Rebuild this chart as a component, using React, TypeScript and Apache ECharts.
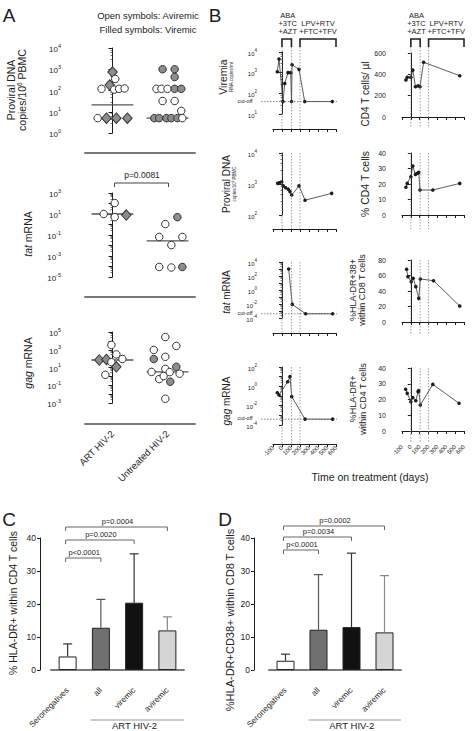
import React, { useEffect, useRef } from "react";
import * as echarts from "echarts";

const FONT = "'Liberation Sans', Arial, Helvetica, sans-serif";
const INK = "#1c1c1c";
const GREY_FILL = "#8d8d8d";

// ---------------- Panel A: one entry per subject ----------------
// [offset within the group column, value, viremic (filled), diamond marker]
type Subject = [number, number, number, number];
const groupNames = ["ART HIV-2", "Untreated HIV-2"];

const proviralArt: Subject[] = [
  [0.0, 740, 1, 1], [0.05, 350, 0, 0], [-0.05, 180, 1, 1],
  [-0.2, 120, 0, 0], [0.03, 110, 0, 0], [0.12, 120, 0, 0], [0.22, 125, 0, 0],
  [-0.27, 5, 0, 0], [-0.11, 5, 1, 1], [0.07, 5, 1, 1], [0.27, 5, 1, 1],
];
const proviralUntreated: Subject[] = [
  [-0.09, 1000, 1, 0], [0.13, 1000, 1, 0], [0.13, 430, 1, 0],
  [-0.2, 120, 0, 0], [-0.11, 120, 0, 0], [0.0, 120, 0, 0], [0.13, 120, 1, 0], [0.25, 120, 1, 0],
  [-0.09, 32, 0, 0], [0.13, 32, 0, 0], [0.25, 11, 0, 0],
  [-0.24, 5, 1, 0], [-0.15, 5, 1, 0], [-0.02, 5, 1, 0], [0.07, 5, 1, 0], [0.18, 5, 1, 0], [0.27, 5, 0, 0],
];
const proviralMedians = [21, 5];

const tatArt: Subject[] = [
  [0.04, 110, 0, 0], [-0.16, 10, 0, 0], [0.04, 5, 0, 0], [0.25, 8, 1, 1],
];
const tatUntreated: Subject[] = [
  [0.18, 5, 1, 0], [-0.04, 1.1, 0, 0], [-0.15, 0.065, 0, 0], [0.27, 0.065, 0, 0],
  [0.07, 0.011, 0, 0], [-0.15, 9e-5, 0, 0], [0.07, 8e-5, 0, 0], [0.27, 9e-5, 1, 0],
];
const tatMedians = [10, 0.027];

const gagArt: Subject[] = [
  [-0.02, 3500, 0, 0], [0.07, 300, 0, 0], [0.18, 90, 0, 0], [-0.24, 70, 1, 1],
  [-0.11, 80, 1, 1], [-0.02, 40, 0, 0], [0.07, 12, 1, 1], [-0.13, 1.5, 0, 0],
];
const gagUntreated: Subject[] = [
  [-0.04, 27000, 0, 0], [0.16, 2700, 0, 0], [-0.25, 950, 0, 0], [-0.04, 160, 0, 0],
  [-0.25, 90, 1, 0], [0.16, 12, 1, 0], [-0.29, 3.2, 0, 0], [-0.04, 7, 0, 0],
  [0.22, 2, 0, 0], [-0.15, 0.5, 0, 0], [-0.07, 1.1, 0, 0], [0.05, 0.25, 1, 0],
  [0.04, 3, 0, 0], [-0.04, 0.003, 0, 0],
];
const gagMedians = [70, 3.2];
const tatPvalue = "p=0.0081";

// ---------------- Panel B: follow-up of one patient ----------------
const timeTicks = [-100, 600];
const regimenSwitchDays = [0, 105, 200];
const firstRegimen = ["ABA", "+3TC", "+AZT"];
const firstRegimenSpan = [0, 105];
const secondRegimen = ["LPV+RTV", "+FTC+TFV"];
const secondRegimenSpan = [200, 600];
const viremiaCutoff = 40;
const rnaCutoff = 4e-4;

const viremiaDays = [-52, -33, 11, 30, 67, 97, 106, 112, 189, 252, 559];
const viremiaCopies = [1100, 4600, 40, 300, 1000, 1000, 40, 2400, 1450, 40, 40];
const proviralDays = [-48, -30, -3, 14, 41, 70, 89, 108, 189, 256, 552];
const proviralCopies = [1050, 1100, 1180, 870, 760, 680, 570, 440, 870, 300, 500];
const tatDays = [74, 114, 263, 563];
const tatCopies = [1000, 0.009, 4e-4, 4e-4];
const gagDays = [-52, -33, 63, 89, 108, 256, 563];
const gagCopies = [0.22, 0.126, 3.0, 10, 0.085, 4e-4, 4e-4];
const cd4CountDays = [-56, -41, 0, 22, 52, 81, 103, 144, 552];
const cd4Counts = [347, 372, 372, 440, 284, 293, 284, 513, 387];
const cd4PctDays = [-56, -41, 0, 22, 52, 74, 89, 103, 248, 552];
const cd4Pct = [17.9, 20.4, 24.7, 31.6, 26.2, 26.9, 27.5, 16.1, 16.1, 20.4];
const cd8ActDays = [-48, -33, 4, 26, 56, 89, 107, 256, 552];
const cd8Act = [68, 58.5, 52, 56.4, 45.6, 30.5, 55.5, 53.3, 20.6];
const cd4ActDays = [-59, -41, 0, 22, 56, 81, 89, 107, 248, 544];
const cd4Act = [26.5, 23.9, 18.6, 21.2, 19.2, 25, 25.6, 16.5, 29.6, 17.6];

// ---------------- Panels C and D: activation markers ----------------
const cohortGroups = ["Seronegatives", "all", "viremic", "aviremic"];
const cd4HlaMean = [4.1, 12.8, 20.4, 12.0];
const cd4HlaUpper = [7.9, 21.4, 35.2, 16.1];
const cd8HlaCd38Mean = [2.8, 12.2, 13.0, 11.4];
const cd8HlaCd38Upper = [4.8, 28.9, 35.4, 28.6];
const cd4Pvalues = ["p<0.0001", "p=0.0020", "p=0.0004"];
const cd8Pvalues = ["p<0.0001", "p=0.0034", "p=0.0002"];
const barColors = ["#ffffff", "#707070", "#111111", "#d5d5d5"];
const errorColors = ["#333333", "#555555", "#333333", "#8a8a8a"];

// ---------------- layout ----------------
const aGrids = [
  { top: 48, height: 85, gap: 20 },
  { top: 193, height: 84, gap: 20 },
  { top: 332, height: 71, gap: 21 },
];
const bLeft = { left: 273, width: 63 };
const bRight = { left: 402, width: 62 };
const bLeftRows = [
  { top: 52, height: 62, gap: 15 },
  { top: 153, height: 62, gap: 14 },
  { top: 262, height: 56, gap: 15 },
  { top: 367, height: 58, gap: 19 },
];
const bRightRows = [
  { top: 53, height: 64, gap: 11 },
  { top: 153, height: 62, gap: 14 },
  { top: 260, height: 62, gap: 13 },
  { top: 368, height: 63, gap: 12 },
];
const cGrid = { left: 51, width: 133, top: 538, height: 132, yGap: 11, xGap: 14 };
const dGrid = { left: 269, width: 132, top: 538, height: 132, yGap: 15, xGap: 14 };

const supRich = (base: number, sup: number) => ({
  b: { fontSize: base, fontFamily: FONT, color: INK, verticalAlign: "bottom", lineHeight: base + 3 },
  s: { fontSize: sup, fontFamily: FONT, color: INK, verticalAlign: "top", lineHeight: base + 3 },
});

const decadeLabel = (step: number, ref: number) => (v: number) => {
  const e = Math.round(Math.log10(v));
  return (e - ref) % step === 0 ? `{b|10}{s|${e}}` : "";
};

function logAxis(gridIndex: number, min: number, max: number, step: number, ref: number, offset: number, small: boolean) {
  return {
    type: "log",
    logBase: 10,
    gridIndex,
    min,
    max,
    offset,
    splitNumber: 10,
    axisLine: { show: true, lineStyle: { color: INK, width: 1 } },
    axisTick: { show: true, length: small ? 3 : 4, lineStyle: { color: INK, width: 1 } },
    minorTick: { show: true, splitNumber: 5, length: small ? 1.5 : 2, lineStyle: { color: INK, width: 0.6 } },
    splitLine: { show: false },
    minorSplitLine: { show: false },
    axisLabel: {
      formatter: decadeLabel(step, ref),
      margin: small ? 4 : 6,
      showMinLabel: true,
      showMaxLabel: true,
      rich: small ? supRich(6, 4.5) : supRich(8, 5.5),
    },
  };
}

function linearAxis(gridIndex: number, max: number, interval: number, offset: number, fontSize: number) {
  return {
    type: "value",
    gridIndex,
    min: 0,
    max,
    interval,
    offset,
    axisLine: { show: true, lineStyle: { color: INK, width: 1 } },
    axisTick: { show: true, length: 3, lineStyle: { color: INK } },
    splitLine: { show: false },
    axisLabel: { fontSize, fontFamily: FONT, color: INK, margin: 4, showMinLabel: true, showMaxLabel: true },
  };
}

function buildOption() {
  const grid: any[] = [];
  const xAxis: any[] = [];
  const yAxis: any[] = [];
  const series: any[] = [];

  // ---- A ----
  const aSets = [
    { art: proviralArt, untreated: proviralUntreated, medians: proviralMedians, min: 1, max: 1e4, step: 1, ref: 0 },
    { art: tatArt, untreated: tatUntreated, medians: tatMedians, min: 1e-5, max: 1e3, step: 2, ref: 1 },
    { art: gagArt, untreated: gagUntreated, medians: gagMedians, min: 1e-3, max: 1e5, step: 2, ref: 1 },
  ];
  aSets.forEach((set, k) => {
    const g = aGrids[k];
    grid.push({ left: 85, width: 110, top: g.top, height: g.height, outerBoundsMode: "none" });
    xAxis.push({ type: "value", gridIndex: k, position: "bottom", min: -0.5, max: 1.5, show: false });
    xAxis.push({
      type: "category",
      gridIndex: k,
      position: "bottom",
      data: groupNames,
      offset: g.gap,
      axisLine: { lineStyle: { color: "#7a7a7a", width: 2 } },
      axisTick: { show: false },
      splitLine: { show: false },
      axisLabel: { show: k === 2, rotate: 45, fontSize: 9.5, fontFamily: FONT, color: INK, margin: 8 },
    });
    yAxis.push(logAxis(k, set.min, set.max, set.step, set.ref, 18, false));
    [set.art, set.untreated].forEach((subjects, gi) => {
      series.push({
        type: "line",
        xAxisIndex: 2 * k,
        yAxisIndex: k,
        data: [[gi - 0.38, set.medians[gi]], [gi + 0.38, set.medians[gi]]],
        symbol: "none",
        lineStyle: { color: "#555", width: 1.3 },
        z: 1,
      });
      series.push({
        type: "scatter",
        xAxisIndex: 2 * k,
        yAxisIndex: k,
        z: 2,
        data: subjects.map(([o, v, filled, diamond]) => ({
          value: [gi + o, v],
          symbol: diamond ? "diamond" : "circle",
          symbolSize: diamond ? [9.5, 10.5] : 7.5,
          itemStyle: { color: filled ? GREY_FILL : "#ffffff", borderColor: "#333", borderWidth: 1, opacity: 1 },
        })),
      });
    });
  });

  // ---- B ----
  const bPanels = [
    { days: viremiaDays, vals: viremiaCopies, log: [10, 1e4], step: 1 },
    { days: proviralDays, vals: proviralCopies, log: [100, 1e4], step: 1 },
    { days: tatDays, vals: tatCopies, log: [1e-4, 1e4], step: 2 },
    { days: gagDays, vals: gagCopies, log: [1e-4, 1e2], step: 2 },
    { days: cd4CountDays, vals: cd4Counts, lin: [600, 200] },
    { days: cd4PctDays, vals: cd4Pct, lin: [40, 10] },
    { days: cd8ActDays, vals: cd8Act, lin: [80, 20] },
    { days: cd4ActDays, vals: cd4Act, lin: [40, 10] },
  ];
  bPanels.forEach((p: any, i) => {
    const right = i >= 4;
    const row = i % 4;
    const col = right ? bRight : bLeft;
    const r = right ? bRightRows[row] : bLeftRows[row];
    const gi = 3 + i;
    grid.push({ left: col.left, width: col.width, top: r.top, height: r.height, outerBoundsMode: "none" });
    xAxis.push({
      type: "value",
      gridIndex: gi,
      position: "bottom",
      min: timeTicks[0],
      max: timeTicks[1],
      interval: 100,
      offset: r.gap,
      axisLine: { show: true, lineStyle: { color: INK, width: 1 } },
      axisTick: { show: true, length: 3, lineStyle: { color: INK } },
      splitLine: { show: false },
      axisLabel: {
        show: row === 3,
        rotate: 45,
        fontSize: 6,
        lineHeight: 4.5,
        fontFamily: FONT,
        color: INK,
        margin: 3,
        showMinLabel: true,
        showMaxLabel: true,
        hideOverlap: false,
      },
    });
    if (p.log) {
      yAxis.push(logAxis(gi, p.log[0], p.log[1], p.step, 0, 12, true));
    } else {
      yAxis.push(linearAxis(gi, p.lin[0], p.lin[1], 12, 7));
    }
    series.push({
      type: "line",
      xAxisIndex: 6 + i,
      yAxisIndex: gi,
      data: p.days.map((d: number, j: number) => [d, p.vals[j]]),
      symbol: "circle",
      symbolSize: 3.6,
      showSymbol: true,
      itemStyle: { color: INK },
      lineStyle: { color: "#333", width: 0.8 },
    });
  });

  // ---- C and D ----
  const bars = [
    { g: cGrid, mean: cd4HlaMean, upper: cd4HlaUpper },
    { g: dGrid, mean: cd8HlaCd38Mean, upper: cd8HlaCd38Upper },
  ];
  bars.forEach((b, k) => {
    const gi = 11 + k;
    grid.push({ left: b.g.left, width: b.g.width, top: b.g.top, height: b.g.height, outerBoundsMode: "none" });
    xAxis.push({
      type: "category",
      gridIndex: gi,
      position: "bottom",
      data: cohortGroups,
      offset: b.g.xGap,
      axisLine: { lineStyle: { color: "#7a7a7a", width: 2 } },
      axisTick: { show: false },
      axisLabel: { rotate: 45, fontSize: 8.2, fontFamily: FONT, color: INK, margin: 5, interval: 0 },
    });
    yAxis.push(linearAxis(gi, 40, 10, b.g.yGap, 8.5));
    series.push({
      type: "bar",
      xAxisIndex: 14 + k,
      yAxisIndex: gi,
      barWidth: 18,
      data: b.mean.map((v, j) => ({ value: v, itemStyle: { color: barColors[j] } })),
      itemStyle: { borderColor: "#222", borderWidth: 1 },
      z: 2,
    });
    series.push({
      type: "custom",
      xAxisIndex: 14 + k,
      yAxisIndex: gi,
      z: 3,
      data: b.mean.map((v, j) => [j, b.upper[j], v]),
      encode: { x: 0, y: [1, 2] },
      renderItem: (params: any, api: any) => {
        const j = api.value(0);
        const top = api.coord([j, api.value(1)]);
        const base = api.coord([j, api.value(2)]);
        const stroke = errorColors[j];
        return {
          type: "group",
          children: [
            { type: "line", shape: { x1: base[0], y1: base[1], x2: top[0], y2: top[1] }, style: { stroke, lineWidth: 1.2 } },
            { type: "line", shape: { x1: top[0] - 4.5, y1: top[1], x2: top[0] + 4.5, y2: top[1] }, style: { stroke, lineWidth: 1.2 } },
          ],
        };
      },
    });
  });

  return {
    animation: false,
    backgroundColor: "#ffffff",
    textStyle: { fontFamily: FONT, color: INK },
    grid,
    xAxis,
    yAxis,
    series,
  };
}

const richSet = (size: number) => ({
  n: { fontSize: size, fontFamily: FONT, fill: INK, lineHeight: size + 2 },
  i: { fontSize: size, fontFamily: FONT, fill: INK, fontStyle: "italic", lineHeight: size + 2 },
  s: { fontSize: size * 0.62, fontFamily: FONT, fill: INK, verticalAlign: "top", lineHeight: size + 2 },
});

function buildGraphics(chart: any) {
  const px = (axis: number, v: any) => chart.convertToPixel({ xAxisIndex: axis }, v) as number;
  const py = (axis: number, v: number) => chart.convertToPixel({ yAxisIndex: axis }, v) as number;
  const els: any[] = [];

  const text = (x: number, y: number, t: string, size: number, opt: any = {}) => {
    els.push({
      type: "text",
      x,
      y,
      rotation: opt.rotate ? Math.PI / 2 : 0,
      silent: true,
      z: 10,
      style: {
        text: t,
        fontSize: size,
        fontFamily: FONT,
        fill: INK,
        align: opt.align || "center",
        verticalAlign: "middle",
        textAlign: opt.align || "center",
        textVerticalAlign: "middle",
        rich: richSet(size),
      },
    });
  };
  const line = (x1: number, y1: number, x2: number, y2: number, stroke: string, width: number, dash?: number[]) => {
    els.push({
      type: "line",
      silent: true,
      z: 5,
      shape: { x1, y1, x2, y2 },
      style: { stroke, lineWidth: width, lineDash: dash || null },
    });
  };
  const bracket = (x0: number, x1: number, y: number, drop: number, stroke: string, width: number) => {
    els.push({
      type: "polyline",
      silent: true,
      z: 5,
      shape: { points: [[x0, y + drop], [x0, y], [x1, y], [x1, y + drop]] },
      style: { stroke, lineWidth: width, fill: "none" },
    });
  };

  // panel letters
  text(9, 15, "A", 19);
  text(215, 15, "B", 19);
  text(9, 519, "C", 19);
  text(225, 519, "D", 19);

  // ---- A ----
  text(148, 15, "Open symbols: Aviremic", 9.5);
  text(148, 29, "Filled symbols: Viremic", 9.5);
  text(11, 90, "{n|Proviral DNA}", 10.5, { rotate: true });
  text(22, 90, "{n|copies/10}{s|6}{n| PBMC}", 10.5, { rotate: true });
  text(28, 234, "{i|tat}{n| mRNA}", 10.5, { rotate: true });
  text(28, 363, "{i|gag}{n| mRNA}", 10.5, { rotate: true });
  const tx0 = px(2, 0);
  const tx1 = px(2, 1);
  bracket(tx0 + 2, tx1 + 1, 183, 4, "#444", 1);
  text((tx0 + tx1) / 2 + 2, 175, tatPvalue, 8.5);

  // ---- B ----
  text(223, 77, "{n|Viremia}", 10.5, { rotate: true });
  text(231, 77, "RNA copies/ml", 4.5, { rotate: true });
  text(226, 184, "{n|Proviral DNA}", 10, { rotate: true });
  text(234, 184, "{n|copies/10}{s|6}{n| PBMC}", 4.5, { rotate: true });
  text(226, 292, "{i|tat}{n| mRNA}", 10, { rotate: true });
  text(226, 401, "{i|gag}{n| mRNA}", 10, { rotate: true });
  text(365, 94, "{n|CD4 T cells/ µl}", 10, { rotate: true });
  text(365, 184, "{n|% CD4 T cells}", 10.5, { rotate: true });
  text(353, 290, "{n|%HLA-DR+38+}", 9, { rotate: true });
  text(362, 290, "{n|within CD8 T cells}", 9, { rotate: true });
  text(353, 399, "{n|%HLA-DR+}", 9, { rotate: true });
  text(363, 399, "{n|within CD4 T cells}", 9, { rotate: true });
  text(370, 477, "Time on treatment (days)", 10.5);

  [0, 1].forEach((c) => {
    const xa = c === 0 ? 6 : 10;
    const a0 = px(xa, firstRegimenSpan[0]);
    const a1 = px(xa, firstRegimenSpan[1]);
    const l0 = px(xa, secondRegimenSpan[0]);
    const l1 = px(xa, secondRegimenSpan[1]);
    firstRegimen.forEach((t, j) => text((a0 + a1) / 2 + 1, 15 + j * 8, t, 7.5));
    secondRegimen.forEach((t, j) => text((l0 + l1) / 2, 23 + j * 8, t, 7.5));
    bracket(a0, a1, 39, 8, "#222", 1.6);
    bracket(l0, l1, 39, 8, "#222", 1.6);
    const rows = c === 0 ? bLeftRows : bRightRows;
    rows.forEach((r, row) => {
      const axis = xa + row;
      const yTop = row === 0 ? 47 : r.top;
      const yBot = r.top + r.height + r.gap;
      regimenSwitchDays.forEach((d) => {
        const x = px(axis, d);
        line(x, yTop, x, yBot, "#777", 0.7, [1.5, 1.5]);
      });
    });
  });

  // detection limits on the virological panels
  const cutoffs = [
    { row: 0, value: viremiaCutoff },
    { row: 2, value: rnaCutoff },
    { row: 3, value: rnaCutoff },
  ];
  cutoffs.forEach(({ row, value }) => {
    const y = py(3 + row, value);
    line(bLeft.left - 12, y, px(6 + row, 600) + 1, y, "#555", 0.7, [1.5, 1.5]);
    text(245, y - 1, "cut-off", 5.5);
  });

  // ---- C and D ----
  text(13, 603, "{n|% HLA-DR+ within CD4 T cells}", 10.5, { rotate: true });
  text(230, 620, "{n|%HLA-DR+CD38+ within CD8 T cells}", 11, { rotate: true });
  const comparisons = [
    { axis: 14, labels: cd4Pvalues, ys: [558, 540, 527], grid: cGrid },
    { axis: 15, labels: cd8Pvalues, ys: [550, 537, 526], grid: dGrid },
  ];
  comparisons.forEach(({ axis, labels, ys, grid }) => {
    const x0 = px(axis, 0);
    labels.forEach((lab, j) => {
      const x1 = px(axis, j + 1);
      bracket(x0 - 2, x1, ys[j], 4, "#666", 1);
      text((x0 + x1) / 2, ys[j] - 5.5, lab, 7.5);
    });
    const g0 = px(axis, 1) - 10;
    const g1 = grid.left + grid.width;
    line(g0, 720, g1, 720, "#999", 1);
    text((g0 + g1) / 2 - 3, 725.5, "ART HIV-2", 9.5);
  });

  return els;
}

export default function App() {
  const ref = useRef<HTMLDivElement>(null);
  useEffect(() => {
    document.body.style.margin = "0";
    const chart = echarts.init(ref.current as HTMLDivElement, undefined, { renderer: "svg" });
    chart.setOption(buildOption() as any);
    chart.setOption({ graphic: { elements: buildGraphics(chart) } } as any);
    return () => chart.dispose();
  }, []);
  return <div ref={ref} style={{ width: 475, height: 731, background: "#fff" }} />;
}
